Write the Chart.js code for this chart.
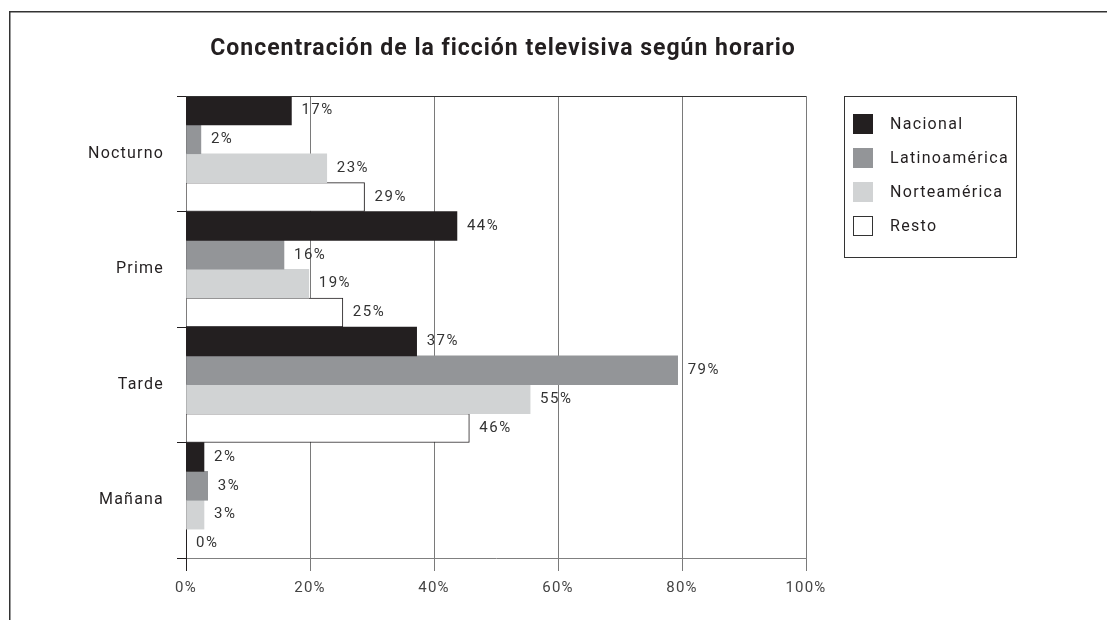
<!DOCTYPE html>
<html>
<head>
<meta charset="utf-8">
<script src="https://cdn.jsdelivr.net/npm/chart.js@4"></script>
<style>
  body { margin: 0; background: #fff; }
</style>
</head>
<body>
<canvas id="chart" width="1107" height="620"></canvas>
<script>
const horarios = ["Nocturno", "Prime", "Tarde", "Mañana"];
const series = ["Nacional", "Latinoamérica", "Norteamérica", "Resto"];

// bar lengths
const nacional = [17.0, 43.7, 37.2, 2.9];
const latinoamerica = [2.4, 15.8, 79.3, 3.5];
const norteamerica = [22.7, 19.8, 55.5, 2.9];
const resto = [28.8, 25.3, 45.7, 0];

// printed labels
const nacionalTexto = [17, 44, 37, 2];
const latinoamericaTexto = [2, 16, 79, 3];
const norteamericaTexto = [23, 19, 55, 3];
const restoTexto = [29, 25, 46, 0];

const xTicks = [0, 20, 40, 60, 80, 100];

const colores = ["#231f20", "#939598", "#d1d3d4", "#ffffff"];
const tinta = "#231f20";
const fuente = "Roboto";

const decor = {
  id: "decor",
  beforeDraw(chart) {
    const c = chart.ctx;
    c.fillStyle = "#fff";
    c.fillRect(0, 0, chart.width, chart.height);
    c.save();
    c.strokeStyle = "#333";
    c.lineWidth = 1.5;
    c.beginPath();
    c.moveTo(9.75, chart.height);
    c.lineTo(9.75, 11.75);
    c.lineTo(chart.width, 11.75);
    c.stroke();
    c.restore();
    // the tick labels are set a little wider, like the original type
    c.letterSpacing = "1.2px";
  },
  afterDatasetsDraw(chart) {
    const c = chart.ctx;
    c.save();
    c.letterSpacing = "1.5px";
    c.font = "15px " + fuente;
    c.fillStyle = "#333";
    c.textBaseline = "middle";
    c.textAlign = "left";
    chart.data.datasets.forEach((ds, i) => {
      chart.getDatasetMeta(i).data.forEach((bar, j) => {
        c.fillText(ds.texto[j] + "%", bar.x + 10, bar.y);
      });
    });
    c.restore();
  },
  afterDraw(chart) {
    const c = chart.ctx;
    const area = chart.chartArea;
    c.save();

    // top edge of the plot
    c.strokeStyle = "#333";
    c.lineWidth = 1;
    c.beginPath();
    c.moveTo(area.left, Math.round(area.top) + 0.5);
    c.lineTo(area.right, Math.round(area.top) + 0.5);
    c.stroke();

    // title
    c.letterSpacing = "1px";
    c.font = "bold 23px " + fuente;
    c.fillStyle = tinta;
    c.textAlign = "center";
    c.textBaseline = "middle";
    c.fillText("Concentración de la ficción televisiva según horario", 503, 49);

    // legend
    const lx = area.right + 38, ly = area.top;
    c.letterSpacing = "1.3px";
    c.strokeStyle = "#333";
    c.strokeRect(lx + 0.5, ly + 0.5, 172, 161);
    c.font = "16px " + fuente;
    c.textAlign = "left";
    chart.data.datasets.forEach((ds, i) => {
      const y = ly + 28 + i * 34;
      c.fillStyle = ds.backgroundColor;
      c.fillRect(lx + 9, y - 10, 20, 20);
      if (ds.borderWidth) {
        c.strokeStyle = "#333";
        c.strokeRect(lx + 9.5, y - 9.5, 19, 19);
      }
      c.fillStyle = tinta;
      c.fillText(ds.label, lx + 46, y + 1);
    });
    c.restore();
    c.letterSpacing = "0px";
  }
};

const valores = [nacional, latinoamerica, norteamerica, resto];
const textos = [nacionalTexto, latinoamericaTexto, norteamericaTexto, restoTexto];

new Chart(document.getElementById("chart"), {
  type: "bar",
  data: {
    labels: horarios,
    datasets: series.map((nombre, i) => ({
      label: nombre,
      data: valores[i],
      texto: textos[i],
      backgroundColor: colores[i],
      borderColor: tinta,
      borderWidth: i === 3 ? 1 : 0,
      barPercentage: 1,
      categoryPercentage: 1
    }))
  },
  options: {
    indexAxis: "y",
    responsive: false,
    animation: false,
    layout: { padding: { left: 0, right: 301, top: 96, bottom: 0 } },
    plugins: {
      legend: { display: false },
      title: { display: false },
      tooltip: { enabled: false }
    },
    scales: {
      x: {
        min: 0,
        max: 100,
        afterBuildTicks: s => { s.ticks = xTicks.map(v => ({ value: v })); },
        ticks: {
          callback: v => v + "%",
          padding: 8,
          color: "#444",
          font: { family: fuente, size: 15 }
        },
        grid: {
          color: g => g.index === 0 ? tinta : "#7a7a7a",
          tickLength: 13,
          lineWidth: 1
        },
        border: { color: "#808080", width: 1 },
        afterFit: s => { s.height = 62; }
      },
      y: {
        ticks: {
          padding: 13,
          color: tinta,
          font: { family: fuente, size: 16 }
        },
        grid: { drawOnChartArea: false, tickLength: 9, color: tinta, offset: true },
        border: { color: tinta, width: 1 },
        afterFit: s => { s.width = 186; }
      }
    }
  },
  plugins: [decor]
});
</script>
</body>
</html>
